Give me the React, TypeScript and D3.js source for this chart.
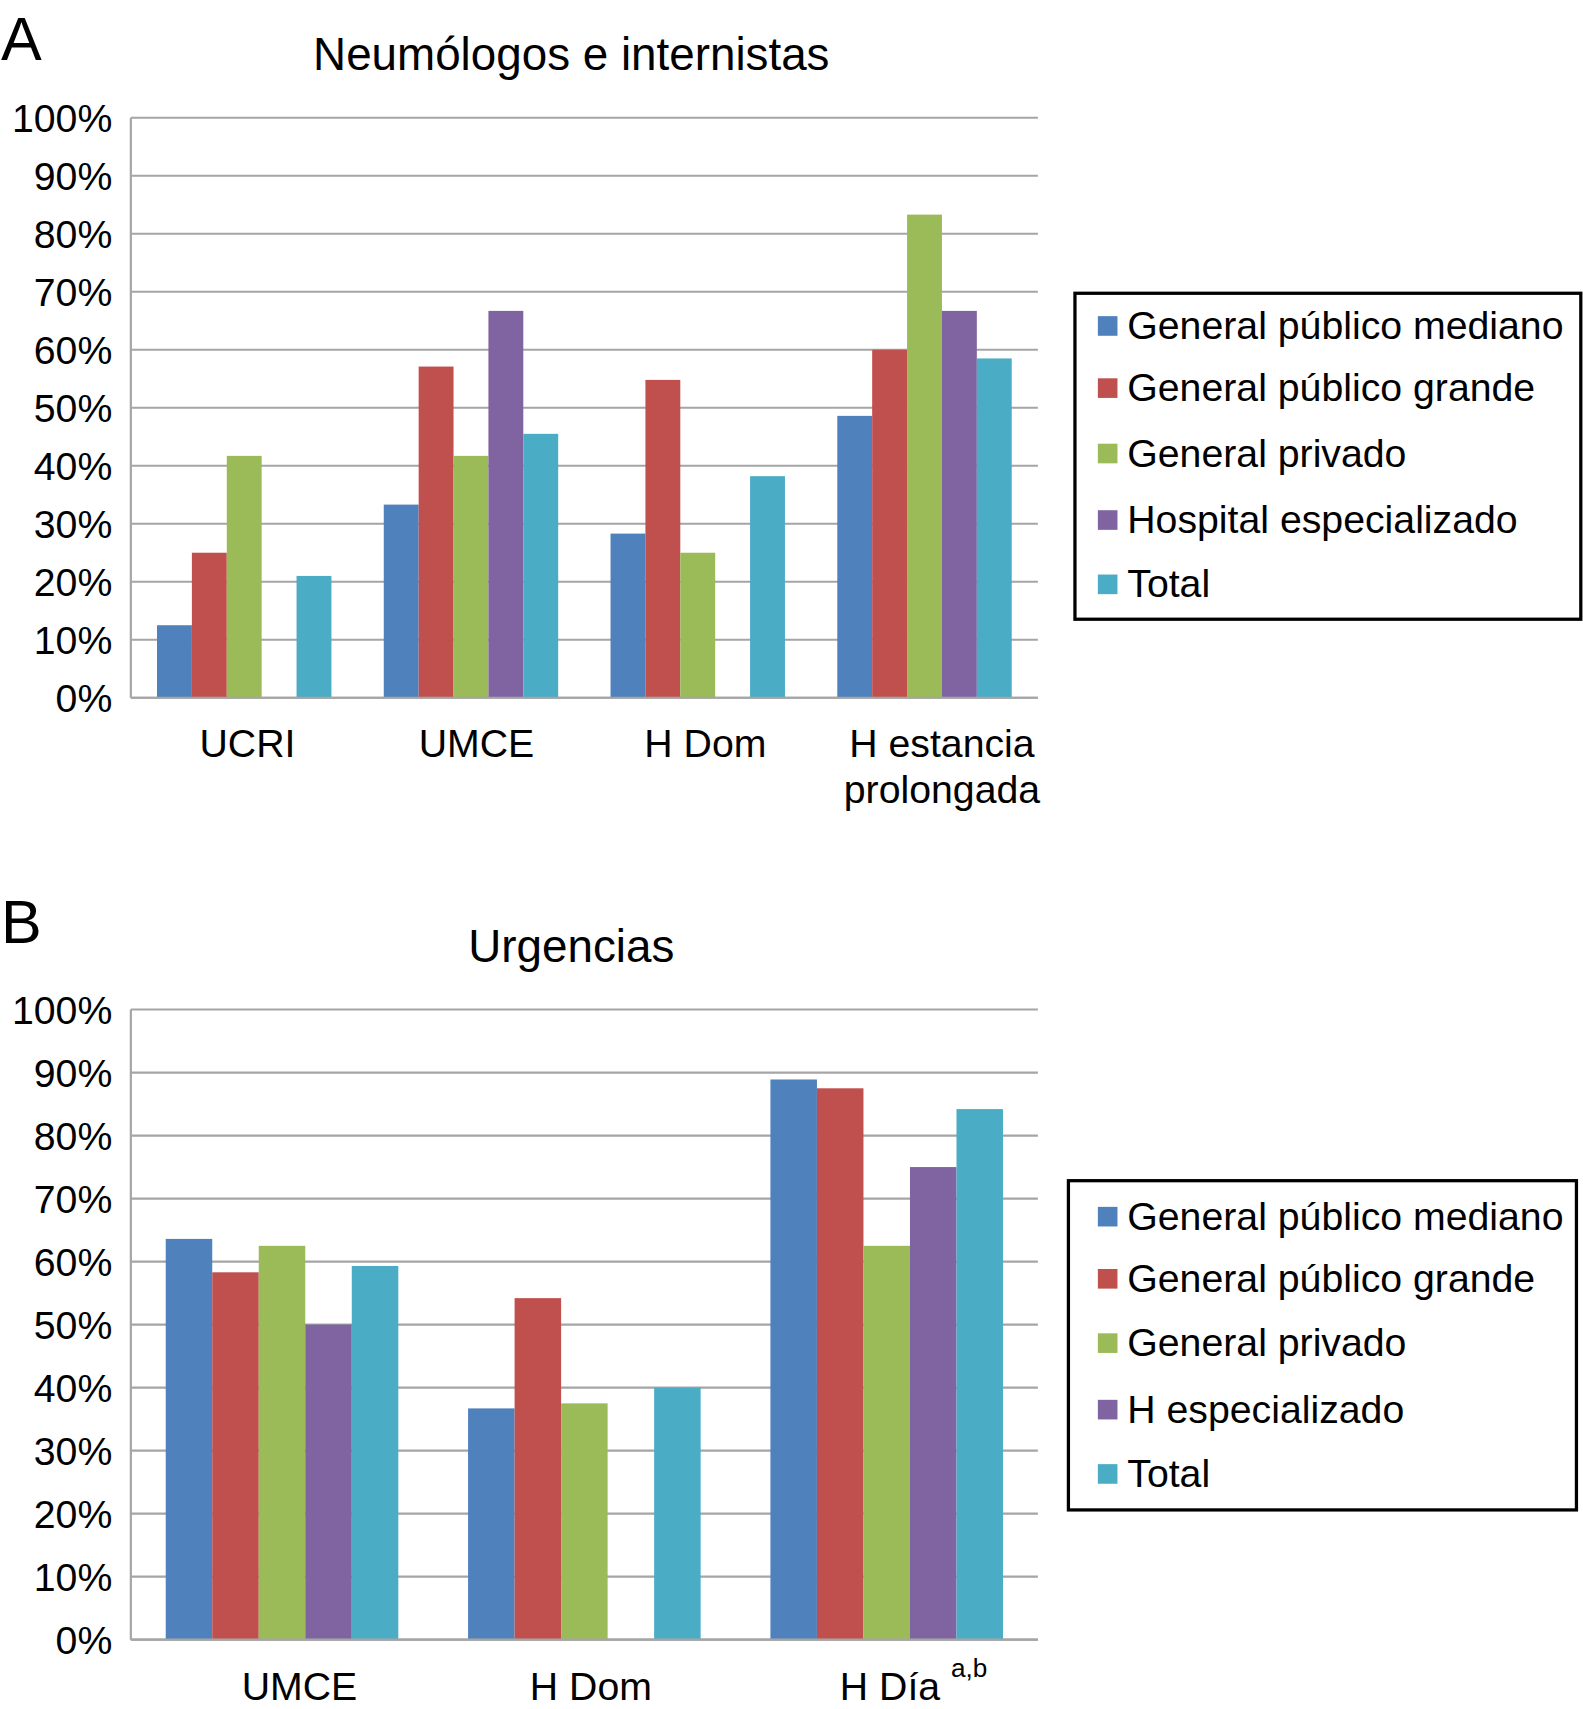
import React, { useEffect } from "react";
import * as d3 from "d3";

// ---------- DATA ----------
const seriesNamesA = [
  "General público mediano",
  "General público grande",
  "General privado",
  "Hospital especializado",
  "Total",
];
const seriesNamesB = [
  "General público mediano",
  "General público grande",
  "General privado",
  "H especializado",
  "Total",
];
const seriesColors = ["#4F81BD", "#C0504D", "#9BBB59", "#8064A2", "#4BACC6"];

const categoriesA = ["UCRI", "UMCE", "H Dom", "H estancia prolongada"];
const categoryLinesA = [["UCRI"], ["UMCE"], ["H Dom"], ["H estancia", "prolongada"]];
const medianoA = [12.5, 33.3, 28.3, 48.6];
const grandeA = [25.0, 57.1, 54.8, 60.0];
const privadoA = [41.7, 41.7, 25.0, 83.3];
const especializadoA = [0, 66.7, 0, 66.7];
const totalA = [21.0, 45.5, 38.2, 58.5];

const categoriesB = ["UMCE", "H Dom", "H Día"];
const categoryLinesB = [["UMCE"], ["H Dom"], ["H Día"]];
const categorySupB = ["", "", "a,b"];
const medianoB = [63.6, 36.7, 88.9];
const grandeB = [58.3, 54.2, 87.5];
const privadoB = [62.5, 37.5, 62.5];
const especializadoB = [50.0, 0, 75.0];
const totalB = [59.3, 40.0, 84.2];

const yTickValues = [0, 10, 20, 30, 40, 50, 60, 70, 80, 90, 100];
const yTickLabels = ["0%", "10%", "20%", "30%", "40%", "50%", "60%", "70%", "80%", "90%", "100%"];

const FONT = "'Liberation Sans', Arial, Helvetica, sans-serif";
const GRID = "#A5A5A5";

type PanelProps = {
  letter: string;
  letterY: number;
  title: string;
  titleY: number;
  categories: string[];
  categoryLines: string[][];
  categorySup?: string[];
  labelDx: number[];
  labelY: number;
  values: number[][];
  seriesNames: string[];
  top: number;
  bottom: number;
  legend: { x: number; y: number; w: number; h: number; sx: number; tx: number; rows: number[] };
};

const LEFT = 120;
const RIGHT = 952;

function Panel(p: PanelProps) {
  const y = d3.scaleLinear().domain([0, 100]).range([p.bottom, p.top]);
  const x0 = d3
    .scaleBand<string>()
    .domain(p.categories)
    .range([LEFT, RIGHT])
    .paddingInner(1.5 / 6.5)
    .paddingOuter(0.75 / 6.5);
  const x1 = d3
    .scaleBand<number>()
    .domain(d3.range(p.seriesNames.length))
    .range([0, x0.bandwidth()])
    .padding(0);

  return (
    <g>
      <text x={1} y={p.letterY} fontSize={56} fontFamily={FONT} fill="#000">
        {p.letter}
      </text>
      <text x={524} y={p.titleY} fontSize={42} fontFamily={FONT} textAnchor="middle" fill="#000">
        {p.title}
      </text>
      {/* gridlines */}
      {yTickValues.map((v, i) => (
        <g key={"g" + i}>
          <line x1={LEFT} x2={RIGHT} y1={y(v)} y2={y(v)} stroke={GRID} strokeWidth={2} />
          <text
            x={103}
            y={y(v)}
            dy="0.36em"
            textAnchor="end"
            fontSize={36}
            fontFamily={FONT}
            fill="#000"
          >
            {yTickLabels[i]}
          </text>
        </g>
      ))}
      <line x1={LEFT} x2={LEFT} y1={p.top} y2={p.bottom} stroke={GRID} strokeWidth={2} />
      {/* bars */}
      {p.categories.map((c, ci) => (
        <g key={c} transform={`translate(${x0(c)},0)`}>
          {p.values.map((ser, si) =>
            ser[ci] > 0 ? (
              <rect
                key={si}
                x={x1(si)}
                y={y(ser[ci])}
                width={x1.bandwidth()}
                height={y(0) - y(ser[ci])}
                fill={seriesColors[si]}
              />
            ) : null
          )}
        </g>
      ))}
      <line x1={LEFT} x2={RIGHT} y1={y(0)} y2={y(0)} stroke={GRID} strokeWidth={2} />
      {/* category labels */}
      {p.categories.map((c, ci) => {
        const cx = (x0(c) as number) + x0.bandwidth() / 2 + p.labelDx[ci];
        const sup = p.categorySup ? p.categorySup[ci] : "";
        return (
          <g key={"l" + c}>
            <text
              x={cx}
              y={p.labelY}
              textAnchor="middle"
              fontSize={36}
              fontFamily={FONT}
              fill="#000"
            >
              {p.categoryLines[ci].map((ln, li) => (
                <tspan key={li} x={cx} dy={li === 0 ? 0 : 43}>
                  {ln}
                </tspan>
              ))}
            </text>
            {sup ? (
              <text
                x={cx + 56}
                y={p.labelY - 21}
                fontSize={24}
                fontFamily={FONT}
                fill="#000"
              >
                {sup}
              </text>
            ) : null}
          </g>
        );
      })}
      {/* legend */}
      <rect
        x={p.legend.x}
        y={p.legend.y}
        width={p.legend.w}
        height={p.legend.h}
        fill="#fff"
        stroke="#000"
        strokeWidth={3}
      />
      {p.seriesNames.map((s, si) => (
        <g key={"lg" + si}>
          <rect
            x={p.legend.sx}
            y={p.legend.rows[si] - 8}
            width={18}
            height={18}
            fill={seriesColors[si]}
          />
          <text
            x={p.legend.tx}
            y={p.legend.rows[si]}
            dy="0.36em"
            fontSize={36}
            fontFamily={FONT}
            fill="#000"
          >
            {s}
          </text>
        </g>
      ))}
    </g>
  );
}

export default function App() {
  useEffect(() => {
    document.body.style.margin = "0";
  }, []);
  return (
    <svg
      width={1583}
      height={1709}
      viewBox="0 0 1452 1567.6"
      style={{ display: "block", position: "absolute", left: 0, top: 0, background: "#fff" }}
    >
      <rect x={0} y={0} width={1452} height={1567.6} fill="#fff" />
      <Panel
        letter="A"
        letterY={55}
        title="Neumólogos e internistas"
        titleY={64}
        categories={categoriesA}
        categoryLines={categoryLinesA}
        labelDx={[3, 5, 7, 16]}
        labelY={694}
        values={[medianoA, grandeA, privadoA, especializadoA, totalA]}
        seriesNames={seriesNamesA}
        top={108}
        bottom={640}
        legend={{ x: 986, y: 269, w: 464, h: 299, sx: 1007, tx: 1034, rows: [298, 355, 415, 476, 535] }}
      />
      <Panel
        letter="B"
        letterY={865}
        title="Urgencias"
        titleY={882}
        categories={categoriesB}
        categoryLines={categoryLinesB}
        categorySup={categorySupB}
        labelDx={[16, 6, 3]}
        labelY={1559}
        values={[medianoB, grandeB, privadoB, especializadoB, totalB]}
        seriesNames={seriesNamesB}
        top={926}
        bottom={1504}
        legend={{ x: 980, y: 1083, w: 466, h: 302, sx: 1007, tx: 1034, rows: [1115, 1172, 1231, 1292, 1351] }}
      />
    </svg>
  );
}
